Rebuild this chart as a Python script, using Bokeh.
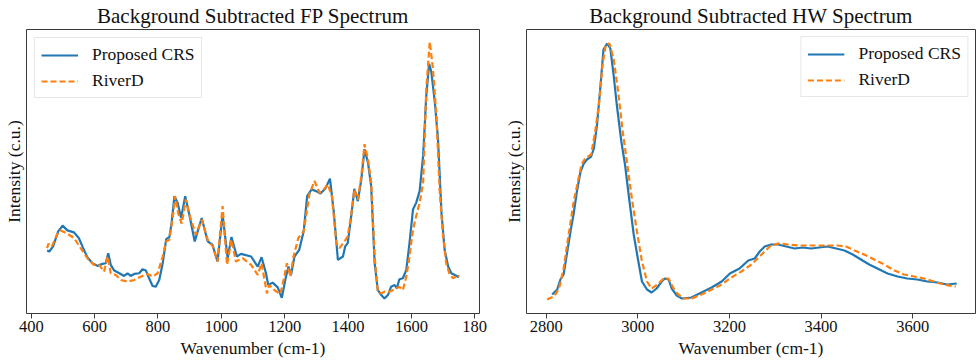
from bokeh.plotting import figure
from bokeh.layouts import row
from bokeh.models import FixedTicker, Range1d, Legend, LegendItem
from bokeh.embed import file_html
from bokeh.resources import INLINE

FONT = "Liberation Serif"
BLUE = "#1f77b4"
ORANGE = "#ff7f0e"

# ---------------- FP spectrum (arbitrary counts) ----------------
fp_crs_x = [450, 457, 469, 485, 499, 514, 535, 550, 564, 577, 593, 609, 625, 635, 643, 651, 662, 678,
            693, 704, 714, 725, 741, 751, 762, 772, 783, 793, 804, 815, 826, 836, 843, 852, 862, 873,
            886, 900, 916, 938, 957, 972, 988, 1004, 1020, 1032, 1049, 1062, 1094, 1115, 1127, 1141,
            1148, 1162, 1178, 1191, 1204, 1212, 1220, 1231, 1246, 1260, 1271, 1285, 1299, 1313, 1328,
            1343, 1355, 1368, 1384, 1391, 1399, 1410, 1420, 1431, 1442, 1452, 1463, 1473, 1484, 1494,
            1505, 1515, 1526, 1536, 1547, 1554, 1562, 1573, 1584, 1594, 1605, 1615, 1626, 1637, 1647,
            1656, 1663, 1674, 1684, 1695, 1705, 1716, 1726, 1737, 1750]
fp_crs_y = [146, 143, 158, 203, 220, 206, 200, 183, 153, 126, 108, 100, 106, 108, 138, 103, 86, 78,
            70, 78, 70, 76, 78, 90, 86, 63, 40, 38, 58, 108, 180, 186, 228, 308, 288, 243,
            308, 248, 173, 243, 173, 163, 113, 253, 123, 186, 128, 136, 128, 98, 126, 78,
            43, 50, 36, 5, 68, 98, 73, 128, 148, 203, 308, 328, 323, 316, 330,
            360, 260, 118, 128, 158, 168, 248, 330, 293, 358, 448, 408, 338, 108, 28,
            13, 3, 13, 38, 43, 33, 60, 63, 88, 168, 268, 288, 323, 428, 608,
            703, 678, 588, 478, 258, 148, 98, 78, 73, 66]

fp_riv_x = [450, 454, 465, 481, 492, 514, 535, 556, 577, 598, 614, 630, 641, 651, 667, 683, 704, 725,
            746, 767, 783, 799, 815, 826, 836, 847, 854, 865, 875, 888, 904, 920, 938, 957, 973, 988,
            1004, 1018, 1032, 1046, 1067, 1094, 1115, 1127, 1144, 1151, 1167, 1186, 1199, 1207, 1218,
            1228, 1243, 1260, 1278, 1294, 1310, 1323, 1336, 1349, 1363, 1373, 1389, 1399, 1410, 1420,
            1431, 1442, 1452, 1463, 1473, 1484, 1494, 1505, 1515, 1531, 1547, 1562, 1573, 1584, 1594,
            1605, 1615, 1626, 1637, 1647, 1658, 1668, 1679, 1689, 1700, 1710, 1721, 1732, 1747, 1750]
fp_riv_y = [153, 166, 158, 193, 206, 196, 183, 153, 123, 103, 103, 83, 128, 78, 73, 58, 53, 58,
            68, 76, 68, 78, 128, 173, 178, 248, 308, 253, 226, 298, 238, 193, 238, 178, 158, 113,
            278, 103, 178, 113, 123, 103, 73, 108, 18, 43, 28, 16, 68, 108, 68,
            128, 183, 203, 313, 353, 318, 328, 343, 308, 168, 153, 173, 188, 253, 328,
            298, 368, 463, 418, 348, 128, 23, 18, 23, 23, 30, 38, 28, 68, 128,
            208, 248, 288, 348, 628, 768, 688, 548, 328, 188, 108, 73, 63, 73, 68]

fp_ticks = [400, 600, 800, 1000, 1200, 1400, 1600, 1800]
fp_tick_labels = ["400", "600", "800", "1000", "1200", "1400", "1600", "180"]

# ---------------- HW spectrum (arbitrary counts) ----------------
hw_crs_x = [2813, 2824, 2831, 2838, 2846, 2853, 2860, 2867, 2875, 2882, 2889, 2898, 2904, 2911, 2918,
            2925, 2933, 2940, 2947, 2954, 2964, 2972, 2981, 2991, 3000, 3009, 3020, 3030, 3041, 3052,
            3059, 3067, 3074, 3085, 3096, 3117, 3139, 3161, 3183, 3201, 3222, 3241, 3255, 3266, 3277,
            3291, 3306, 3324, 3342, 3360, 3378, 3396, 3414, 3433, 3451, 3469, 3487, 3505, 3523, 3545,
            3567, 3588, 3610, 3632, 3654, 3675, 3696]
hw_crs_y = [19, 24, 34, 39, 62, 82, 100, 122, 142, 150, 154, 157, 165, 189, 225,
            264, 270, 265, 239, 209, 172, 149, 115, 79, 55, 32, 24, 21, 25, 32,
            35, 34, 25, 18, 15, 16, 21, 26, 32, 40, 45, 53, 55, 62, 67,
            69, 69, 67, 65, 66, 65, 66, 67, 65, 63, 59, 54, 49, 45, 40,
            37, 35, 34, 32, 31, 29, 30]

hw_riv_x = [2802, 2817, 2828, 2838, 2849, 2860, 2867, 2877, 2885, 2898, 2907, 2915, 2923, 2930, 2938,
            2947, 2957, 2967, 2976, 2987, 2998, 3009, 3020, 3030, 3043, 3056, 3067, 3078, 3088, 3100,
            3117, 3139, 3161, 3183, 3204, 3226, 3248, 3270, 3288, 3306, 3328, 3350, 3371, 3393, 3414,
            3436, 3454, 3473, 3494, 3516, 3538, 3560, 3581, 3603, 3625, 3646, 3668, 3694]
hw_riv_y = [14, 17, 25, 45, 79, 112, 127, 149, 155, 159, 182, 209, 249, 269, 270,
            255, 222, 182, 152, 115, 82, 52, 32, 25, 29, 35, 35, 25, 19, 15,
            15, 19, 24, 29, 36, 42, 49, 59, 67, 70, 69, 68, 68, 68, 68,
            68, 67, 63, 59, 54, 49, 43, 39, 37, 35, 32, 29, 27]

hw_ticks = [2800, 3000, 3200, 3400, 3600]
hw_tick_labels = ["2800", "3000", "3200", "3400", "3600"]

series_names = ["Proposed CRS", "RiverD"]
x_title = "Wavenumber (cm-1)"
y_title = "Intensity (c.u.)"


def make_panel(title, xs, ys, x_range, y_range, ticks, tick_labels, width,
               min_left, min_right, legend_loc, legend_margin):
    p = figure(width=width, height=362, output_backend="svg", toolbar_location=None,
               x_range=Range1d(*x_range), y_range=Range1d(*y_range),
               min_border_left=min_left, min_border_right=min_right,
               min_border_top=0, min_border_bottom=49)
    p.title.text = title
    p.title.text_font = FONT
    p.title.text_font_size = "21px"
    p.title.text_font_style = "normal"
    p.title.align = "center"
    p.title.text_color = "#111111"
    p.title.standoff = 3
    p.title.offset = 0

    p.background_fill_color = "white"
    p.border_fill_color = "white"
    p.outline_line_color = "#3a3a3a"
    p.outline_line_width = 1
    p.xgrid.visible = False
    p.ygrid.visible = False

    xa = p.xaxis[0]
    xa.ticker = FixedTicker(ticks=ticks)
    xa.major_label_overrides = {t: l for t, l in zip(ticks, tick_labels)}
    xa.axis_line_color = None
    xa.major_tick_line_color = "#3a3a3a"
    xa.major_tick_out = 5
    xa.major_tick_in = 0
    xa.minor_tick_line_color = None
    xa.major_label_text_font = FONT
    xa.major_label_text_font_size = "16.5px"
    xa.major_label_text_color = "#111111"
    xa.major_label_standoff = 2
    xa.axis_label = x_title
    xa.axis_label_text_font = FONT
    xa.axis_label_text_font_size = "17.5px"
    xa.axis_label_text_font_style = "normal"
    xa.axis_label_text_color = "#111111"
    xa.axis_label_standoff = 3

    ya = p.yaxis[0]
    ya.ticker = FixedTicker(ticks=[])
    ya.axis_line_color = None
    ya.major_tick_line_color = None
    ya.minor_tick_line_color = None
    ya.axis_label = y_title
    ya.axis_label_text_font = FONT
    ya.axis_label_text_font_size = "17.5px"
    ya.axis_label_text_font_style = "normal"
    ya.axis_label_text_color = "#111111"
    ya.axis_label_standoff = 3

    r1 = p.line(xs[0], ys[0], line_color=BLUE, line_width=2.2)
    r2 = p.line(xs[1], ys[1], line_color=ORANGE, line_width=2.2, line_dash="6 3")

    legend = Legend(items=[LegendItem(label=series_names[0], renderers=[r1]),
                           LegendItem(label=series_names[1], renderers=[r2])],
                    location=legend_loc)
    legend.label_text_font = FONT
    legend.label_text_font_size = "17.5px"
    legend.label_text_color = "#111111"
    legend.glyph_width = 37
    legend.glyph_height = 20
    legend.label_height = 20
    legend.label_standoff = 14
    legend.spacing = 5
    legend.padding = 6
    legend.margin = legend_margin
    legend.border_line_color = "#d0d0d0"
    legend.border_line_width = 1
    legend.background_fill_color = "white"
    legend.background_fill_alpha = 1.0
    p.add_layout(legend)
    return p


p1 = make_panel("Background Subtracted FP Spectrum",
                [fp_crs_x, fp_riv_x], [fp_crs_y, fp_riv_y],
                (385, 1815), (-42, 805), fp_ticks, fp_tick_labels,
                width=500, min_left=26, min_right=21, legend_loc="top_left", legend_margin=8)
p2 = make_panel("Background Subtracted HW Spectrum",
                [hw_crs_x, hw_riv_x], [hw_crs_y, hw_riv_y],
                (2757, 3737), (0, 284), hw_ticks, hw_tick_labels,
                width=480, min_left=24, min_right=5, legend_loc="top_right", legend_margin=7)

layout = row(p1, p2)
open("out.html", "w").write(file_html(layout, INLINE))
